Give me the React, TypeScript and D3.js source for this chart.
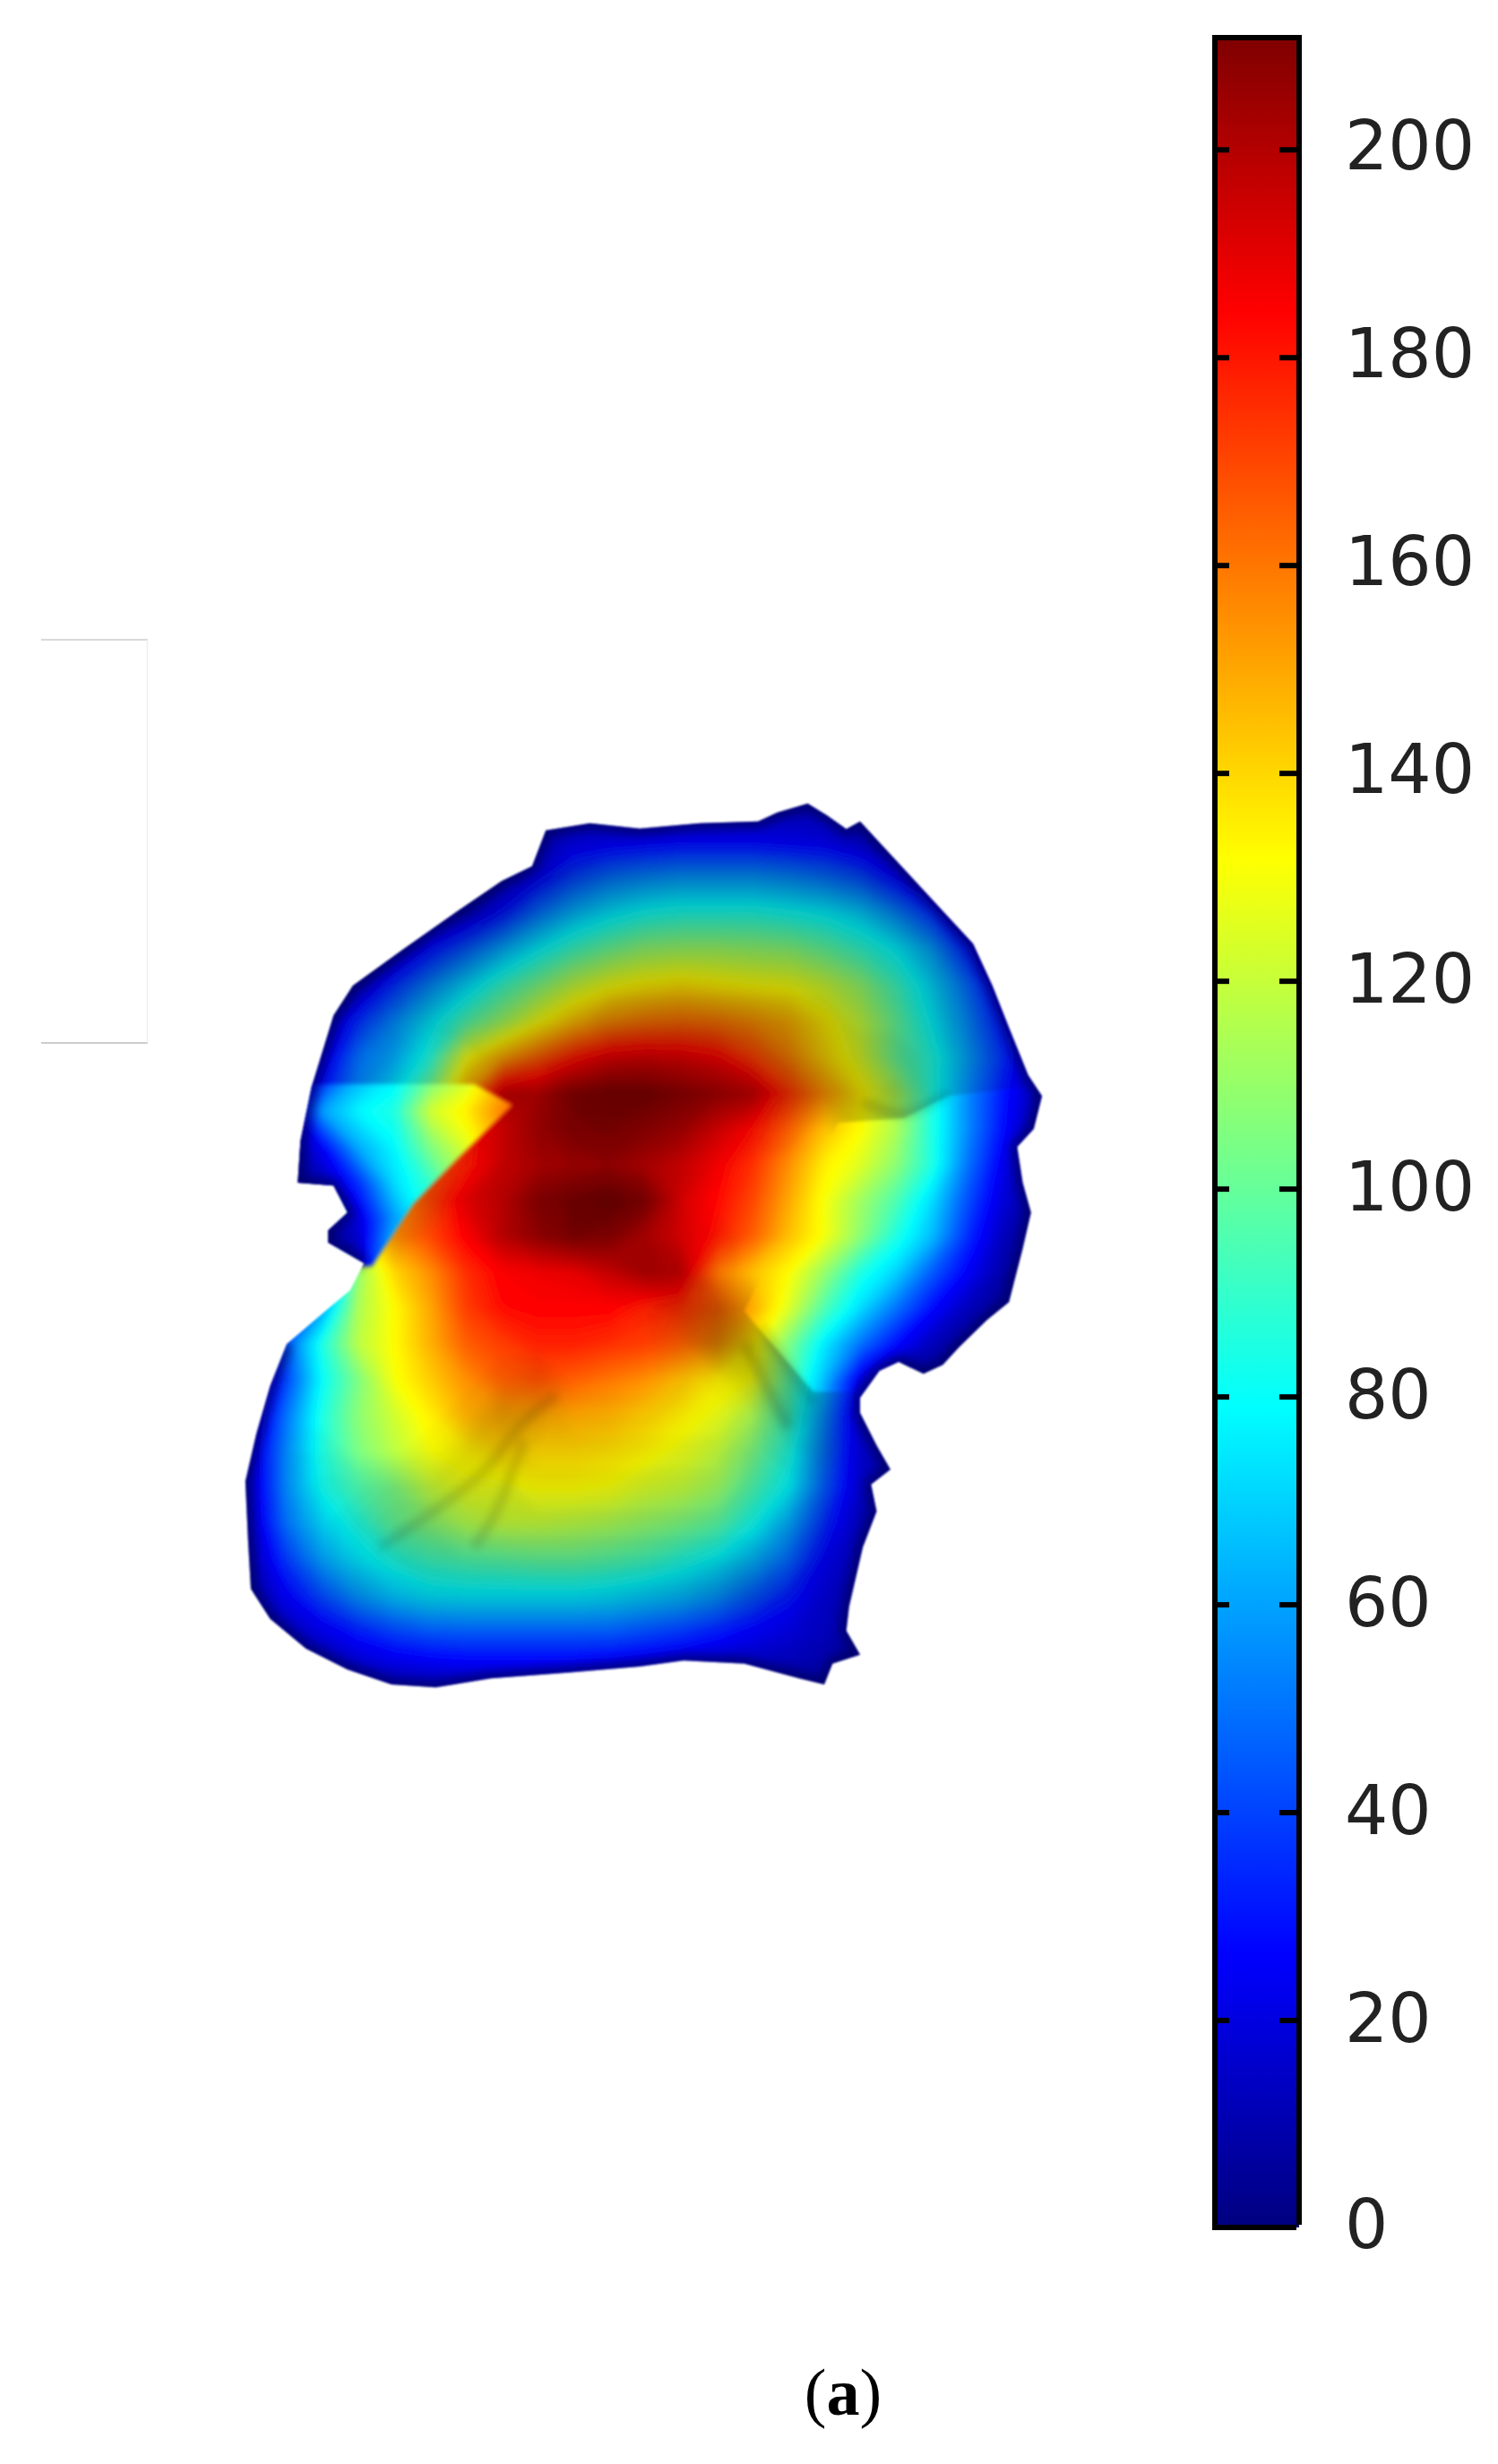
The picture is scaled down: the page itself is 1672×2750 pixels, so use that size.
import React from 'react'
import * as d3 from 'd3'

const width = 1672
const height = 2750

// colour bar
const barTicks = [0, 20, 40, 60, 80, 100, 120, 140, 160, 180, 200]
const barMax = 210.8
const jetStops = [0, 0.11, 0.125, 0.375, 0.625, 0.875, 1]
const jetColors = ['#00007f', '#0000f0', '#0000ff', '#00ffff', '#ffff00', '#ff0000', '#7f0000']

// values, one row per 60 units down, one column per 65 units across
const valueRows = [
  [5, 5, 5, 5, 5, 5, 5, 5, 5, 5, 5, 5, 5, 5, 5, 5, 5, 5, 5, 5, 5, 5, 5, 5, 5],
  [5, 5, 5, 5, 5, 5, 5, 5, 5, 5, 5, 5, 5, 5, 5, 5, 8, 8, 5, 5, 5, 5, 5, 5, 5],
  [5, 5, 5, 5, 5, 5, 5, 5, 5, 12, 20, 22, 24, 26, 26, 26, 24, 22, 15, 5, 5, 5, 5, 5, 5],
  [5, 5, 5, 5, 5, 5, 5, 5, 10, 25, 40, 50, 55, 58, 58, 58, 55, 50, 42, 25, 8, 5, 5, 5, 5],
  [5, 5, 5, 5, 5, 5, 8, 12, 30, 50, 65, 75, 82, 85, 85, 85, 82, 78, 70, 55, 35, 8, 5, 5, 5],
  [5, 5, 5, 5, 5, 8, 28, 45, 62, 78, 92, 102, 110, 112, 112, 110, 108, 100, 90, 78, 60, 30, 6, 5, 5],
  [5, 5, 5, 5, 10, 35, 55, 72, 90, 105, 120, 130, 135, 138, 135, 132, 130, 122, 110, 92, 72, 48, 15, 5, 5],
  [5, 5, 5, 8, 35, 55, 75, 95, 112, 130, 145, 155, 160, 162, 160, 155, 148, 135, 120, 100, 78, 55, 28, 4, 5],
  [5, 5, 5, 18, 50, 62, 85, 130, 150, 165, 180, 190, 192, 190, 185, 172, 158, 140, 125, 100, 85, 60, 35, 5, 5],
  [5, 5, 5, 30, 55, 75, 105, 150, 195, 200, 208, 210, 210, 205, 200, 195, 175, 155, 135, 115, 85, 55, 30, 10, 5],
  [5, 5, 5, 25, 60, 150, 165, 178, 190, 200, 207, 208, 205, 200, 190, 182, 165, 145, 132, 115, 85, 55, 28, 5, 5],
  [5, 5, 5, 12, 90, 150, 168, 178, 195, 200, 203, 205, 200, 195, 185, 175, 155, 135, 125, 108, 85, 50, 22, 4, 5],
  [5, 5, 5, 5, 130, 150, 170, 190, 198, 206, 208, 210, 205, 192, 183, 170, 150, 130, 112, 95, 72, 42, 18, 5, 5],
  [5, 5, 5, 5, 130, 155, 170, 185, 200, 205, 208, 206, 198, 190, 180, 165, 145, 130, 108, 85, 65, 35, 12, 5, 5],
  [5, 5, 5, 5, 110, 140, 155, 175, 185, 188, 190, 195, 200, 195, 160, 145, 132, 110, 85, 70, 45, 25, 8, 5, 5],
  [5, 5, 5, 60, 115, 132, 150, 172, 182, 184, 184, 184, 178, 175, 165, 150, 125, 95, 72, 50, 28, 12, 5, 5, 5],
  [5, 5, 45, 85, 118, 132, 148, 165, 172, 178, 178, 175, 172, 165, 155, 135, 105, 75, 50, 28, 12, 5, 5, 5, 5],
  [5, 5, 40, 80, 105, 130, 142, 155, 165, 168, 165, 160, 155, 145, 135, 130, 98, 65, 20, 5, 5, 5, 5, 5, 5],
  [5, 10, 50, 85, 108, 122, 135, 148, 150, 150, 150, 148, 142, 135, 128, 115, 92, 55, 12, 5, 5, 5, 5, 5, 5],
  [5, 15, 55, 85, 105, 118, 130, 134, 140, 140, 140, 138, 134, 128, 120, 105, 85, 50, 15, 5, 5, 5, 5, 5, 5],
  [5, 15, 55, 82, 95, 105, 120, 128, 128, 132, 132, 130, 124, 120, 112, 95, 78, 45, 14, 5, 5, 5, 5, 5, 5],
  [5, 14, 50, 72, 85, 100, 108, 116, 120, 120, 118, 115, 110, 105, 98, 82, 62, 35, 10, 5, 5, 5, 5, 5, 5],
  [5, 10, 38, 60, 75, 85, 92, 96, 98, 100, 100, 97, 93, 86, 78, 65, 48, 25, 8, 5, 5, 5, 5, 5, 5],
  [5, 6, 25, 42, 58, 68, 75, 76, 76, 76, 76, 74, 70, 66, 58, 45, 32, 18, 6, 5, 5, 5, 5, 5, 5],
  [5, 5, 12, 22, 32, 40, 45, 46, 46, 46, 46, 46, 42, 38, 32, 25, 20, 14, 5, 5, 5, 5, 5, 5, 5],
  [5, 5, 5, 8, 14, 18, 20, 22, 22, 22, 22, 20, 18, 16, 14, 12, 10, 8, 5, 5, 5, 5, 5, 5, 5],
  [5, 5, 5, 5, 5, 5, 5, 5, 5, 5, 5, 5, 5, 5, 5, 5, 5, 5, 5, 5, 5, 5, 5, 5, 5],
]

// bright patch left of the seam, rows from 480 to 840, first ten columns of the same grid
const wedgeRows = [
  [5, 5, 5, 30, 62, 75, 100, 120, 145, 165],
  [5, 5, 5, 60, 78, 85, 122, 135, 158, 172],
  [5, 5, 5, 25, 62, 78, 105, 125, 150, 170],
  [5, 5, 5, 12, 35, 72, 90, 115, 150, 165],
  [5, 5, 5, 5, 18, 58, 85, 110, 140, 160],
  [5, 5, 5, 5, 12, 70, 95, 120, 140, 160],
  [5, 5, 5, 5, 10, 60, 90, 115, 135, 150],
]

// how much darker than the pure colour map the picture is, in percent, same grid as valueRows
const shadeRows = [
  [0, 0, 0, 0, 0, 0, 0, 0, 0, 0, 0, 0, 0, 0, 0, 0, 0, 0, 0, 0, 0, 0, 0, 0, 0],
  [0, 0, 0, 0, 0, 0, 0, 0, 0, 0, 0, 0, 0, 0, 0, 0, 0, 0, 0, 0, 0, 0, 0, 0, 0],
  [0, 0, 0, 0, 0, 0, 0, 0, 0, 12, 12, 12, 12, 12, 12, 12, 12, 12, 12, 0, 0, 0, 0, 0, 0],
  [0, 0, 0, 0, 0, 0, 0, 0, 20, 25, 25, 25, 25, 25, 25, 25, 25, 25, 25, 20, 15, 0, 0, 0, 0],
  [0, 0, 0, 0, 0, 0, 15, 20, 25, 25, 25, 25, 25, 25, 25, 25, 25, 25, 25, 25, 20, 15, 0, 0, 0],
  [0, 0, 0, 0, 0, 15, 20, 25, 25, 25, 25, 25, 25, 25, 25, 25, 25, 25, 25, 25, 25, 20, 0, 0, 0],
  [0, 0, 0, 0, 15, 20, 25, 25, 25, 25, 25, 25, 25, 25, 25, 25, 25, 25, 25, 25, 25, 20, 10, 0, 0],
  [0, 0, 0, 10, 15, 20, 25, 25, 25, 25, 25, 28, 28, 28, 28, 28, 28, 28, 25, 25, 25, 22, 15, 0, 0],
  [0, 0, 0, 5, 12, 15, 18, 22, 25, 25, 25, 25, 25, 25, 25, 25, 28, 28, 28, 28, 25, 22, 15, 0, 0],
  [0, 0, 0, 10, 15, 20, 22, 25, 25, 15, 25, 30, 30, 30, 30, 28, 25, 25, 28, 30, 25, 15, 10, 0, 0],
  [0, 0, 0, 0, 0, 15, 15, 15, 15, 20, 22, 22, 20, 20, 15, 8, 5, 0, 25, 25, 25, 15, 0, 0, 0],
  [0, 0, 0, 0, 0, 15, 15, 10, 5, 10, 10, 10, 10, 5, 5, 0, 0, 0, 0, 0, 0, 0, 0, 0, 0],
  [0, 0, 0, 0, 0, 15, 15, 5, 5, 20, 30, 35, 30, 5, 0, 0, 0, 0, 0, 0, 0, 0, 0, 0, 0],
  [0, 0, 0, 0, 0, 10, 0, 0, 0, 10, 20, 20, 15, 10, 5, 0, 0, 0, 0, 0, 0, 0, 0, 0, 0],
  [0, 0, 0, 0, 0, 0, 0, 0, 0, 0, 0, 5, 15, 20, 5, 0, 0, 0, 0, 0, 0, 0, 0, 0, 0],
  [0, 0, 0, 0, 0, 0, 0, 0, 0, 0, 0, 0, 5, 20, 30, 15, 0, 0, 0, 0, 0, 0, 0, 0, 0],
  [0, 0, 0, 0, 0, 0, 0, 0, 0, 0, 0, 0, 0, 10, 35, 35, 30, 0, 0, 0, 0, 0, 0, 0, 0],
  [0, 0, 0, 0, 0, 0, 0, 0, 5, 10, 0, 0, 0, 5, 10, 25, 30, 25, 0, 0, 0, 0, 0, 0, 0],
  [0, 0, 0, 0, 0, 0, 0, 5, 20, 15, 5, 5, 5, 5, 5, 10, 35, 25, 0, 0, 0, 0, 0, 0, 0],
  [0, 0, 5, 5, 0, 0, 5, 15, 15, 10, 10, 10, 10, 10, 10, 15, 20, 25, 0, 0, 0, 0, 0, 0, 0],
  [0, 0, 5, 10, 10, 15, 15, 15, 15, 12, 12, 12, 12, 12, 12, 15, 15, 15, 0, 0, 0, 0, 0, 0, 0],
  [0, 0, 5, 10, 15, 20, 20, 15, 15, 15, 15, 15, 15, 15, 15, 15, 15, 15, 0, 0, 0, 0, 0, 0, 0],
  [0, 0, 5, 10, 15, 20, 20, 20, 20, 20, 20, 20, 20, 20, 20, 20, 15, 15, 0, 0, 0, 0, 0, 0, 0],
  [0, 0, 5, 10, 15, 15, 20, 20, 20, 20, 20, 20, 20, 20, 20, 20, 15, 10, 0, 0, 0, 0, 0, 0, 0],
  [0, 0, 0, 5, 5, 5, 5, 5, 5, 5, 5, 5, 5, 5, 5, 5, 5, 5, 0, 0, 0, 0, 0, 0, 0],
  [0, 0, 0, 0, 0, 0, 0, 0, 0, 0, 0, 0, 0, 0, 0, 0, 0, 0, 0, 0, 0, 0, 0, 0, 0],
  [0, 0, 0, 0, 0, 0, 0, 0, 0, 0, 0, 0, 0, 0, 0, 0, 0, 0, 0, 0, 0, 0, 0, 0, 0],
]

// edge of the blob, same units as the grid
const outline: [number, number][] = [
  [600, 100], [680, 88], [770, 97], [880, 88], [985, 85], [1020, 70], [1075, 55], [1110, 75], [1145, 98],
  [1170, 85], [1200, 115], [1260, 175], [1320, 235], [1375, 290], [1410, 360], [1440, 430], [1475, 510],
  [1500, 545], [1485, 600], [1455, 630], [1465, 690], [1480, 740], [1465, 800], [1440, 890], [1400, 920],
  [1350, 965], [1320, 995], [1285, 1010], [1240, 990], [1205, 1005], [1170, 1050], [1170, 1075], [1200, 1130],
  [1225, 1170], [1190, 1195], [1200, 1240], [1175, 1300], [1150, 1400], [1145, 1440], [1170, 1480], [1120, 1495],
  [1105, 1530], [1060, 1520], [960, 1495], [850, 1490], [770, 1500], [640, 1510], [500, 1520], [400, 1535],
  [320, 1530], [240, 1505], [165, 1470], [100, 1420], [65, 1370], [60, 1290], [55, 1190], [75, 1110],
  [100, 1030], [130, 960], [200, 905], [245, 870], [270, 825], [205, 790], [205, 770], [240, 740], [215, 695],
  [150, 690], [155, 620], [175, 530], [215, 410], [250, 360], [340, 300], [440, 235], [520, 185], [575, 160],
]

// seam edges
const wedgeEdge: [number, number][] = [
  [100, 525], [470, 525], [540, 560], [440, 650], [360, 725], [285, 830], [100, 830],
]
const shadeEdge: [number, number][] = [
  [0, 0], [1560, 0], [1560, 520], [1330, 545], [1250, 582], [1130, 590], [960, 905], [1085, 1040],
  [1560, 1040], [1560, 1560], [0, 1560],
]

// thin dark creases
const creases: [number, number][][] = [
  [[620, 1045], [560, 1090], [480, 1180], [300, 1300]],
  [[560, 1120], [510, 1240], [470, 1300]],
  [[960, 960], [1040, 1100]],
  [[990, 930], [1085, 1060]],
  [[1175, 555], [1250, 575], [1330, 540]],
]

const x = d3.scaleLinear().domain([0, 1560]).range([240, 1200])
const y = d3.scaleLinear().domain([0, 1560]).range([860, 1900])
const barY = d3.scaleLinear().domain([0, barMax]).range([2487, 42])
const jet = d3.scaleLinear<string>().domain(jetStops.map(d => d * barMax)).range(jetColors)

const cols = valueRows[0].length
const rows = valueRows.length

// d3.contours puts grid point i at i + 0.5
const gridPath = (rowOffset: number) => d3.geoPath(d3.geoTransform({
  point (px, py) {
    this.stream.point(x((px - 0.5) * 65), y((py - 0.5 + rowOffset) * 60))
  }
}))

const valueStep = 2.5
const valueLevels = d3.range(0, 212, valueStep)
const valueBands = d3.contours().size([cols, rows]).thresholds(valueLevels)(valueRows.flat())
const wedgeBands = d3.contours().size([wedgeRows[0].length, wedgeRows.length]).thresholds(valueLevels)(wedgeRows.flat())
const shadeLevels = d3.range(2, 40, 3)
const shadeBands = d3.contours().size([cols, rows]).thresholds(shadeLevels)(shadeRows.flat())

const closed = d3.line().x(d => x(d[0])).y(d => y(d[1])).curve(d3.curveLinearClosed)
const open = d3.line().x(d => x(d[0])).y(d => y(d[1])).curve(d3.curveCatmullRom)
const straight = d3.line().x(d => x(d[0])).y(d => y(d[1]))

// the dark rim runs round the blob except along the lower left seam
const rimStart = outline.findIndex(d => d[0] === 270 && d[1] === 825)
const rimEnd = outline.findIndex(d => d[0] === 130 && d[1] === 960)
const rim = [...outline.slice(rimStart), ...outline.slice(0, rimEnd + 1)]

const blur = (id: string, amount: number) => (
  <filter id={id} filterUnits="userSpaceOnUse" x="0" y="0" width={width} height={height}>
    <feGaussianBlur stdDeviation={amount} />
  </filter>
)

const App = () => {
  return (
    <svg width={width} height={height} style={{ position: 'absolute', left: 0, top: 0, background: '#fff' }}>
      <defs>
        <clipPath id="blob"><path d={closed(outline) as string} /></clipPath>
        <clipPath id="wedge"><path d={closed(wedgeEdge) as string} /></clipPath>
        <clipPath id="shaded"><path d={closed(shadeEdge) as string} /></clipPath>
        {blur('soft', 5)}
        {blur('edge', 1.5)}
        {blur('outer', 0.9)}
        {blur('wedgeEdge', 2.2)}
        {blur('crease', 4)}
        {blur('rim', 6)}
        {blur('label', 0.5)}
        <linearGradient id="jet" x1="0" y1="1" x2="0" y2="0">
          {jetStops.map((d, i) => <stop key={i} offset={d} stopColor={jetColors[i]} />)}
        </linearGradient>
      </defs>

      {/* faint box on the left */}
      <line x1={46} x2={165} y1={714} y2={714} stroke="#ccc" strokeWidth={1.5} />
      <line x1={46} x2={165} y1={1164} y2={1164} stroke="#bbb" strokeWidth={1.5} />
      <line x1={164.5} x2={164.5} y1={714} y2={1164} stroke="#eee" strokeWidth={1.5} />

      <g filter="url(#outer)">
        <g clipPath="url(#blob)">
          <g filter="url(#soft)">
            {valueBands.map(d => (
              <path key={d.value} d={gridPath(0)(d) as string} fill={jet(d.value + valueStep / 2)} />
            ))}
          </g>
          <g filter="url(#edge)">
            <g clipPath="url(#shaded)">
              <g filter="url(#soft)">
                {shadeBands.map(d => (
                  <path key={d.value} d={gridPath(0)(d) as string} fill="#000" fillOpacity={0.03} />
                ))}
              </g>
            </g>
          </g>
          <g filter="url(#wedgeEdge)">
            <g clipPath="url(#wedge)">
              <g filter="url(#soft)">
                {wedgeBands.map(d => (
                  <path key={d.value} d={gridPath(8.5)(d) as string} fill={jet(d.value + valueStep / 2)} />
                ))}
              </g>
            </g>
          </g>
          <g filter="url(#crease)" fill="none" stroke="#000" strokeOpacity={0.12} strokeWidth={12}>
            {creases.map((c, i) => <path key={i} d={open(c) as string} />)}
          </g>
          <path d={straight(rim) as string} filter="url(#rim)" fill="none" stroke="#000050" strokeOpacity={0.65} strokeWidth={14} />
        </g>
      </g>

      {/* colour bar */}
      <rect x={1356} y={42} width={94} height={2444} fill="url(#jet)" />
      {barTicks.slice(1).map(t => (
        <g key={t} stroke="#000" strokeWidth={6}>
          <line x1={1356} x2={1372} y1={barY(t)} y2={barY(t)} />
          <line x1={1428} x2={1450} y1={barY(t)} y2={barY(t)} />
        </g>
      ))}
      <path d="M1356,2486V42H1450V2483" fill="none" stroke="#000" strokeWidth={6} />
      <line x1={1353} x2={1447} y1={2486} y2={2486} stroke="#000" strokeWidth={6} />
      <g filter="url(#label)">
        {barTicks.map(t => (
          <text key={t} x={1501} y={barY(t) + (t > 0 && t < 140 ? 24 : 22)} fontFamily="DejaVu Sans" fontSize={76} fill="#222">{t}</text>
        ))}
      </g>

      <text x={941} y={2695} textAnchor="middle" fontFamily="Liberation Serif" fontSize={74} fill="#000">
        (<tspan fontWeight="bold">a</tspan>)
      </text>
    </svg>
  )
}

export default App
